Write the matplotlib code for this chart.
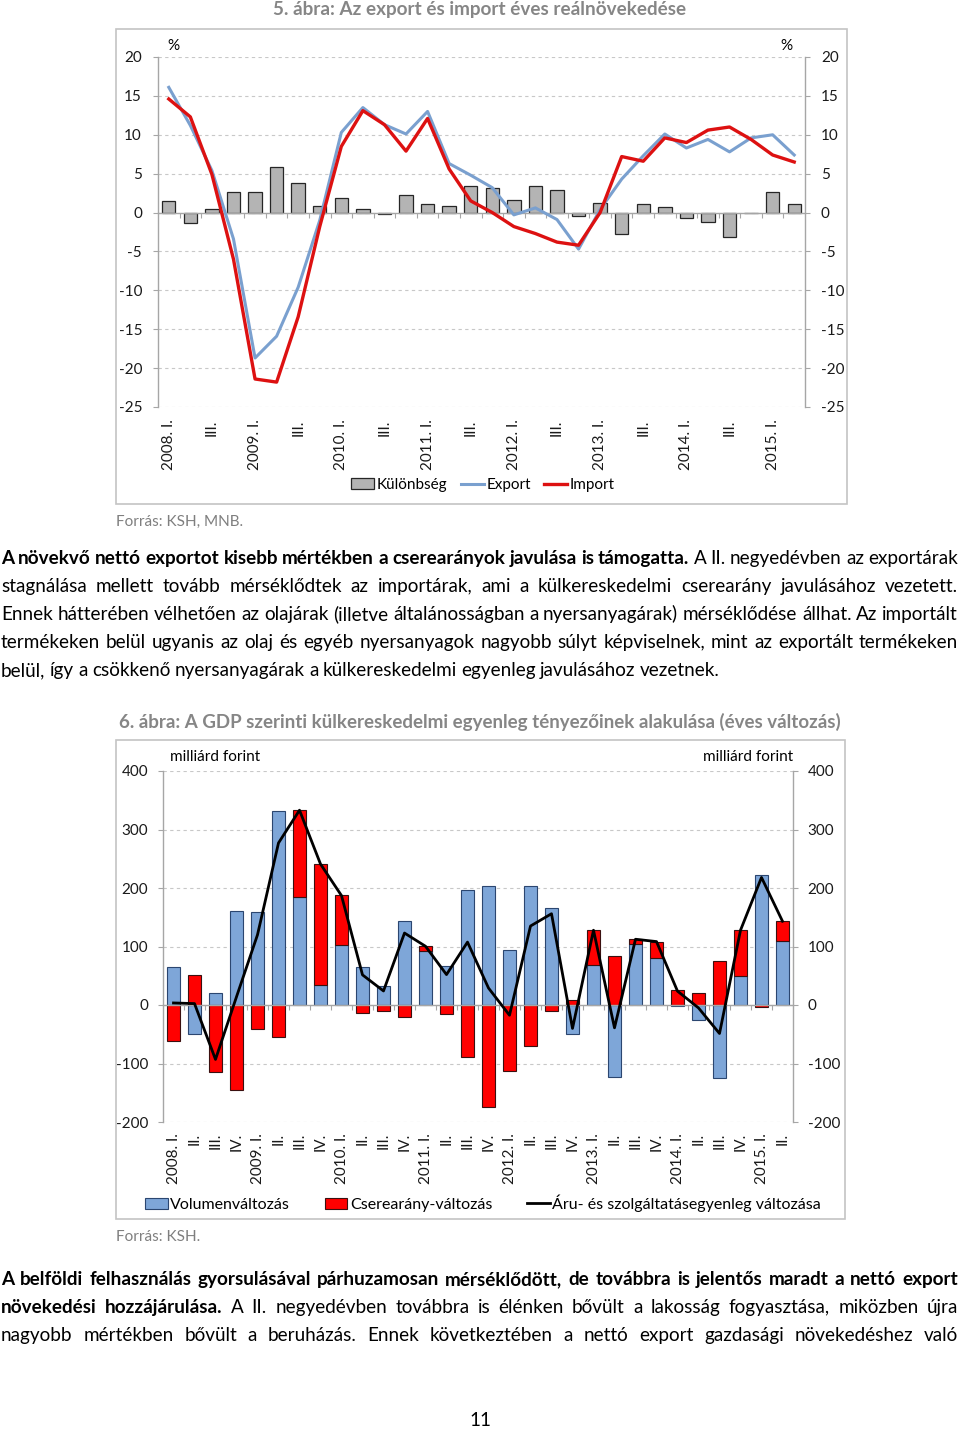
import matplotlib
matplotlib.use("Agg")
import matplotlib.pyplot as plt
from matplotlib.patches import Patch, Rectangle
from matplotlib.lines import Line2D
import numpy as np

W, H = 960, 1429
plt.rcParams['font.family'] = ['Lato', 'DejaVu Sans']
plt.rcParams['axes.unicode_minus'] = False

# --- Data: 5. ábra (éves reálnövekedés, %) ---
quarters = ["2008. I.", "II.", "III.", "IV.", "2009. I.", "II.", "III.", "IV.",
            "2010. I.", "II.", "III.", "IV.", "2011. I.", "II.", "III.", "IV.",
            "2012. I.", "II.", "III.", "IV.", "2013. I.", "II.", "III.", "IV.",
            "2014. I.", "II.", "III.", "IV.", "2015. I.", "II."]
kulonbseg = [1.5, -1.3, 0.4, 2.7, 2.6, 5.9, 3.85, 0.8, 1.9, 0.4, -0.15, 2.3, 1.05, 0.9, 3.4,
             3.15, 1.6, 3.45, 2.85, -0.45, 1.2, -2.7, 1.05, 0.75, -0.75, -1.25, -3.1, 0.0, 2.7, 1.05]
export_growth = [16.1, 11.2, 5.4, -3.4, -18.7, -15.9, -9.6, -1.0, 10.3, 13.5, 11.3, 10.1, 13.0, 6.3, 4.8,
                 3.2, -0.3, 0.6, -0.9, -4.7, 0.4, 4.3, 7.3, 10.1, 8.3, 9.4, 7.8, 9.6, 10.0, 7.4]
import_growth = [14.6, 12.3, 4.9, -6.0, -21.4, -21.8, -13.4, -1.8, 8.5, 13.1, 11.3, 7.9, 12.1, 5.6, 1.5,
                 0.0, -1.8, -2.7, -3.8, -4.2, 0.0, 7.2, 6.6, 9.6, 9.0, 10.6, 11.0, 9.4, 7.4, 6.5]

# --- Data: 6. ábra (milliárd forint, éves változás) ---
volumen = [65.6, -49, 20.5, 160, 158.6, 331.5, 184.9, 34.8, 102.7, 64.5, 33, 143, 91.9, 66, 196.9,
           203, 94.7, 204, 165, -49.7, 69, -123.4, 104.4, 80, -2, -25.7, -124, 49.6, 223, 109]
cserearany = [-61.7, 51.4, -114, -146, -40.6, -54, 148.9, 206.6, 84.5, -13, -9.7, -20, 8.5, -14.9, -89,
              -173.7, -113, -69.7, -9.7, 9, 58.8, 84.5, 8, 28.5, 25.7, 20.5, 75.3, 78.2, -3, 34]
egyenleg = [3.5, 2.4, -93, 14, 120, 277, 333, 241, 187, 51.5, 24, 123, 100.4, 52, 107.5,
            29, -17.5, 135, 156, -40, 127.8, -39, 112.4, 108.4, 23.7, -5, -48.7, 127.8, 218, 143.2]

para1 = [
    ([("A növekvő nettó exportot kisebb mértékben a cserearányok javulása is támogatta.", True),
      ("A II. negyedévben az exportárak", False)], True),
    ([("stagnálása mellett tovább mérséklődtek az importárak, ami a külkereskedelmi cserearány javulásához vezetett.", False)], True),
    ([("Ennek hátterében vélhetően az olajárak (illetve általánosságban a nyersanyagárak) mérséklődése állhat. Az importált", False)], True),
    ([("termékeken belül ugyanis az olaj és egyéb nyersanyagok nagyobb súlyt képviselnek, mint az exportált termékeken", False)], True),
    ([("belül, így a csökkenő nyersanyagárak a külkereskedelmi egyenleg javulásához vezetnek.", False)], False),
]
para2 = [
    ([("A belföldi felhasználás gyorsulásával párhuzamosan mérséklődött, de továbbra is jelentős maradt a nettó export", True)], True),
    ([("növekedési hozzájárulása.", True),
      ("A II. negyedévben továbbra is élénken bővült a lakosság fogyasztása, miközben újra", False)], True),
    ([("nagyobb mértékben bővült a beruházás. Ennek következtében a nettó export gazdasági növekedéshez való", False)], True),
]

GREY_AX = '#a6a6a6'
GRID = '#c8c8c8'
TITLE_C = '#868686'
BLUE_L = '#7aa0cf'
RED_L = '#dd1111'


def px_rect(x0, y0, x1, y1):
    return [x0 / W, 1 - y1 / H, (x1 - x0) / W, (y1 - y0) / H]


def fy(y):
    return 1 - y / H


fig = plt.figure(figsize=(W / 100, H / 100), dpi=100)
renderer = fig.canvas.get_renderer()


def fit_width(t, target):
    w = t.get_window_extent(renderer).width
    t.set_fontsize(t.get_fontsize() * target / w)


def style_axes(ax, ylim, step, lab_pad):
    n = len(quarters)
    ax.set_xlim(-0.5, n - 0.5)
    ax.set_ylim(*ylim)
    ax.set_yticks(np.arange(ylim[0], ylim[1] + step / 2, step))
    ax.yaxis.grid(True, linestyle=(0, (3, 3)), color=GRID, lw=0.8)
    ax.set_axisbelow(True)
    ax.spines['top'].set_visible(False)
    ax.spines['bottom'].set_position(('data', 0))
    for s in ['bottom', 'left', 'right']:
        ax.spines[s].set_color(GREY_AX)
        ax.spines[s].set_linewidth(1.0)
    ax.yaxis.set_ticks_position('both')
    ax.tick_params(axis='y', direction='out', length=3.5, color=GREY_AX, labelsize=11,
                   pad=lab_pad, labelleft=True, labelright=True, labelcolor='#1a1a1a')
    ax.set_xticks(np.arange(0.5, n - 1, 1))
    ax.tick_params(axis='x', direction='out', length=3.5, color=GREY_AX, labelbottom=False)
    sec = ax.secondary_xaxis(0.0)
    for s in sec.spines.values():
        s.set_visible(False)
    return sec


# ---------------- Chart 5 ----------------
t1 = fig.text(480 / W, fy(9), "5. ábra: Az export és import éves reálnövekedése", ha='center', va='center',
              fontsize=12.5, fontweight='bold', color=TITLE_C)
fit_width(t1, 412)
fig.patches.append(Rectangle((116 / W, fy(504)), (847 - 116) / W, (504 - 29) / H, transform=fig.transFigure,
                             fill=False, edgecolor='#c4c4c4', lw=1.2))

x = np.arange(len(quarters))
ax1 = fig.add_axes(px_rect(158, 57, 805, 407))
ax1.bar(x, kulonbseg, width=0.62, color='#b4b4b4', edgecolor='#262626', linewidth=0.9, zorder=2)
ax1.plot(x, export_growth, color=BLUE_L, lw=2.2, zorder=3)
ax1.plot(x, import_growth, color=RED_L, lw=2.4, zorder=4)
sec1 = style_axes(ax1, (-25, 20), 5, 8)
sec1.set_xticks(x[::2], labels=quarters[::2])
sec1.tick_params(length=0, pad=9, labelrotation=90, labelsize=11, labelcolor='#1a1a1a')

fig.text(173 / W, fy(46), "%", ha='center', va='center', fontsize=11)
fig.text(786 / W, fy(46), "%", ha='center', va='center', fontsize=11)
fig.legend(handles=[Patch(facecolor='#b4b4b4', edgecolor='#262626', lw=0.9),
                    Line2D([], [], color=BLUE_L, lw=2.2),
                    Line2D([], [], color=RED_L, lw=2.4)],
           labels=["Különbség", "Export", "Import"], loc='center', bbox_to_anchor=(483 / W, fy(485)),
           ncol=3, frameon=False, fontsize=11, handlelength=1.5, handletextpad=0.15,
           columnspacing=0.9, borderaxespad=0)
fig.text(116 / W, fy(522), "Forrás: KSH, MNB.", ha='left', va='center', fontsize=11, color='#7f7f7f')

# ---------------- Chart 6 ----------------
t2 = fig.text(480 / W, fy(722), "6. ábra: A GDP szerinti külkereskedelmi egyenleg tényezőinek alakulása (éves változás)",
              ha='center', va='center', fontsize=12.5, fontweight='bold', color=TITLE_C)
fit_width(t2, 725)
fig.patches.append(Rectangle((116 / W, fy(1219)), (845 - 116) / W, (1219 - 740) / H, transform=fig.transFigure,
                             fill=False, edgecolor='#c4c4c4', lw=1.2))

vol = np.array(volumen)
cs = np.array(cserearany)
cs_bottom = np.where(np.sign(cs) == np.sign(vol), vol, 0)
ax2 = fig.add_axes(px_rect(163, 771, 793, 1122))
ax2.bar(x, vol, width=0.6, color='#7ea6d8', edgecolor='#2b4670', linewidth=0.8, zorder=2)
ax2.bar(x, cs, bottom=cs_bottom, width=0.6, color='#ff0000', edgecolor='#3a1010', linewidth=0.8, zorder=2)
ax2.plot(x, egyenleg, color='black', lw=2.0, zorder=4)
sec2 = style_axes(ax2, (-200, 400), 100, 7)
sec2.set_xticks(x, labels=quarters)
sec2.tick_params(length=0, pad=8, labelrotation=90, labelsize=11, labelcolor='#1a1a1a')

fig.text(170 / W, fy(757), "milliárd forint", ha='left', va='center', fontsize=11)
fig.text(793 / W, fy(757), "milliárd forint", ha='right', va='center', fontsize=11)
fig.legend(handles=[Patch(facecolor='#7ea6d8', edgecolor='#2b4670', lw=0.8),
                    Patch(facecolor='#ff0000', edgecolor='#3a1010', lw=0.8),
                    Line2D([], [], color='black', lw=2.0)],
           labels=["Volumenváltozás", "Cserearány-változás", "Áru- és szolgáltatásegyenleg változása"],
           loc='center', bbox_to_anchor=(483 / W, fy(1203)), ncol=3, frameon=False, fontsize=11.5,
           handlelength=1.4, handletextpad=0.15, columnspacing=2.2, borderaxespad=0)
fig.text(116 / W, fy(1237), "Forrás: KSH.", ha='left', va='center', fontsize=11, color='#7f7f7f')

# ---------------- Body text (justified) ----------------
X_LEFT, X_RIGHT = 1, 958


def make_words(segments, fs):
    arts = []
    for txt, bold in segments:
        for w in txt.split():
            arts.append(fig.text(0, 0, w, fontsize=fs, fontweight='bold' if bold else 'normal',
                                 ha='left', va='baseline', color='black'))
    return arts


def natural_width(arts, fs):
    ws = [a.get_window_extent(renderer).width for a in arts]
    return sum(ws) + 0.23 * fs * 100 / 72 * (len(ws) - 1)


# font size so the last (unjustified) line of paragraph 1 ends where the reference does
probe = make_words(para1[-1][0], 12)
fs_body = 12 * 714 / natural_width(probe, 12)
for a in probe:
    a.remove()


def draw_paragraph(lines, y0, step):
    for i, (segments, justify) in enumerate(lines):
        arts = make_words(segments, fs_body)
        ws = [a.get_window_extent(renderer).width for a in arts]
        if justify:
            gap = (X_RIGHT - X_LEFT - sum(ws)) / (len(ws) - 1)
        else:
            gap = 0.23 * fs_body * 100 / 72
        xpos = X_LEFT
        for a, w in zip(arts, ws):
            a.set_position((xpos / W, fy(y0 + i * step)))
            xpos += w + gap


draw_paragraph(para1, 564, 28)
draw_paragraph(para2, 1285, 28)
fig.text(480 / W, fy(1421), "11", ha='center', va='center', fontsize=fs_body)

fig.savefig("out.png", dpi=100)
